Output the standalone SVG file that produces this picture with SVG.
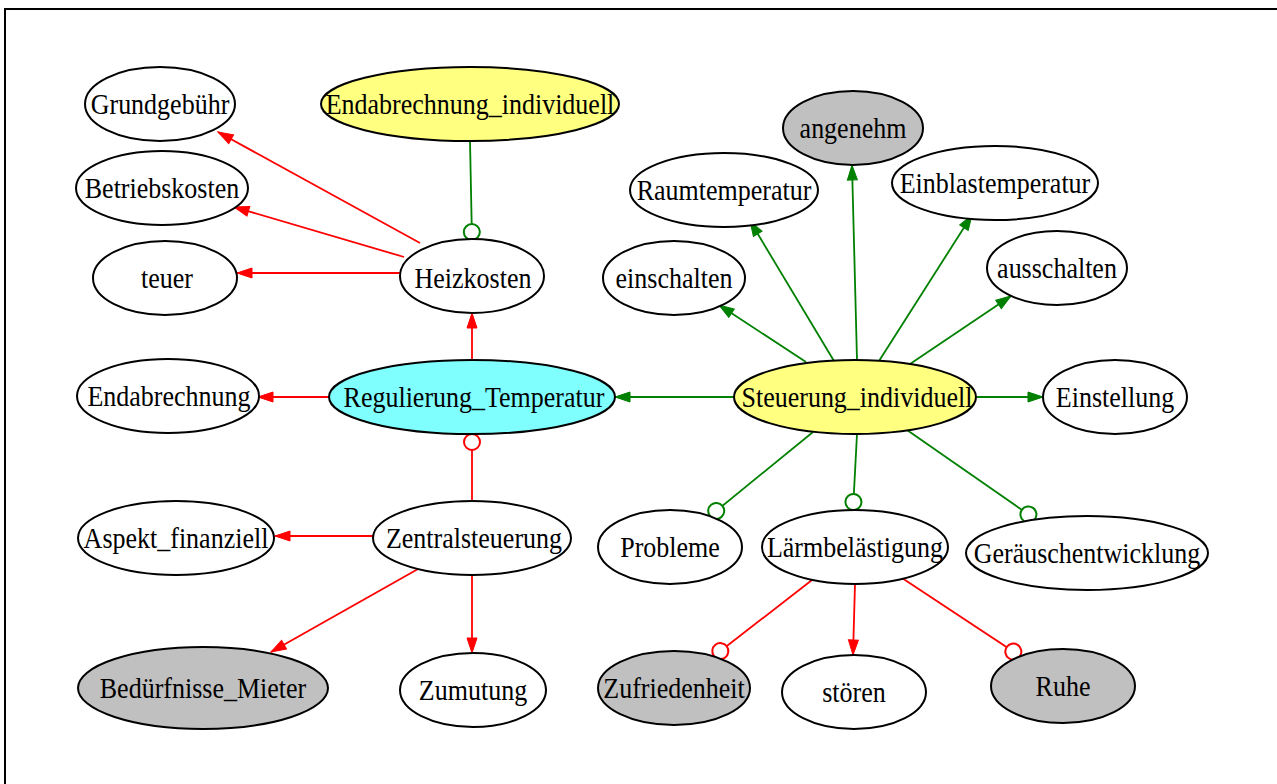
<svg xmlns="http://www.w3.org/2000/svg" width="1277" height="784" viewBox="0 0 1277 784">
<style>
  .n ellipse { stroke: #000; stroke-width: 2; fill: #fff; }
  .n.y ellipse { fill: #ffff80; }
  .n.c ellipse { fill: #80ffff; }
  .n.g ellipse { fill: #c0c0c0; }
  .n text { font-family: "Liberation Serif", "Times New Roman", serif; font-size: 26px; fill: #000; text-anchor: middle; transform-box: fill-box; transform-origin: center; transform: scaleY(1.12); }
  .r { stroke: #ff0000; stroke-width: 1.8; fill: none; }
  .gr { stroke: #008000; stroke-width: 1.8; fill: none; }
  .r.a { marker-end: url(#arR); }
  .gr.a { marker-end: url(#arG); }
  .r.o { marker-end: url(#odR); }
  .gr.o { marker-end: url(#odG); }
</style>
<defs>
  <marker id="arR" markerUnits="userSpaceOnUse" markerWidth="16" markerHeight="12" refX="15" refY="5" orient="auto" overflow="visible">
    <path d="M0,0 L15,5 L0,10 Z" fill="#ff0000" stroke="#ff0000" stroke-width="1"/>
  </marker>
  <marker id="arG" markerUnits="userSpaceOnUse" markerWidth="16" markerHeight="12" refX="15" refY="5" orient="auto" overflow="visible">
    <path d="M0,0 L15,5 L0,10 Z" fill="#008000" stroke="#008000" stroke-width="1"/>
  </marker>
  <marker id="odR" markerUnits="userSpaceOnUse" markerWidth="20" markerHeight="20" refX="17" refY="9" orient="auto" overflow="visible">
    <circle cx="9" cy="9" r="8" fill="#fff" stroke="#ff0000" stroke-width="2"/>
  </marker>
  <marker id="odG" markerUnits="userSpaceOnUse" markerWidth="20" markerHeight="20" refX="17" refY="9" orient="auto" overflow="visible">
    <circle cx="9" cy="9" r="8" fill="#fff" stroke="#008000" stroke-width="2"/>
  </marker>
</defs>
<rect x="0" y="0" width="1277" height="784" fill="#fff"/>
<rect x="5" y="9" width="1400" height="1000" fill="none" stroke="#000" stroke-width="2"/>

<g id="connectors">
  <path class="r a" d="M420,243 L218,132"/>
  <path class="r a" d="M404,257 L234,207"/>
  <path class="r a" d="M400,273 L237,273"/>
  <path class="gr o" d="M470,141 L472,240"/>
  <path class="r a" d="M472,360 L472,313"/>
  <path class="r a" d="M329,397 L258,397"/>
  <path class="gr a" d="M734,397 L615,397"/>
  <path class="gr a" d="M976,397 L1043,397"/>
  <path class="gr a" d="M806,362 L719,305"/>
  <path class="gr a" d="M834,361 L750,221"/>
  <path class="gr a" d="M857,360 L852,165"/>
  <path class="gr a" d="M879,361 L972,215"/>
  <path class="gr a" d="M910,364 L1011,296"/>
  <path class="gr o" d="M813,432 L710,516"/>
  <path class="gr o" d="M857,434 L853,510"/>
  <path class="gr o" d="M907,430 L1035,519"/>
  <path class="r o" d="M472,501 L472,434"/>
  <path class="r a" d="M373,536 L275,536"/>
  <path class="r a" d="M418,569 L271,652"/>
  <path class="r a" d="M472,575 L472,653"/>
  <path class="r o" d="M812,580 L714,656"/>
  <path class="r a" d="M855,584 L853,655"/>
  <path class="r o" d="M902,578 L1020,656"/>
</g>

<g id="Grundgebuehr" class="n"><ellipse cx="160" cy="104" rx="75" ry="37"/><text x="160" y="113">Grundgebühr</text></g>
<g id="Endabrechnung_individuell" class="n y"><ellipse cx="470" cy="104" rx="149" ry="37"/><text x="470" y="113">Endabrechnung_individuell</text></g>
<g id="Betriebskosten" class="n"><ellipse cx="162" cy="188" rx="86" ry="37"/><text x="162" y="197">Betriebskosten</text></g>
<g id="teuer" class="n"><ellipse cx="165" cy="278" rx="72" ry="37"/><text x="167" y="287">teuer</text></g>
<g id="Heizkosten" class="n"><ellipse cx="472" cy="276" rx="72" ry="37"/><text x="473" y="287">Heizkosten</text></g>
<g id="angenehm" class="n g"><ellipse cx="853" cy="128" rx="70" ry="37"/><text x="853" y="137">angenehm</text></g>
<g id="Raumtemperatur" class="n"><ellipse cx="724" cy="190" rx="94" ry="37"/><text x="724" y="199">Raumtemperatur</text></g>
<g id="Einblastemperatur" class="n"><ellipse cx="995" cy="183" rx="103" ry="37"/><text x="995" y="192">Einblastemperatur</text></g>
<g id="einschalten" class="n"><ellipse cx="674" cy="278" rx="71" ry="37"/><text x="674" y="287">einschalten</text></g>
<g id="ausschalten" class="n"><ellipse cx="1057" cy="268" rx="70" ry="37"/><text x="1057" y="277">ausschalten</text></g>
<g id="Endabrechnung" class="n"><ellipse cx="168" cy="396" rx="91" ry="37"/><text x="169" y="405">Endabrechnung</text></g>
<g id="Regulierung_Temperatur" class="n c"><ellipse cx="472" cy="397" rx="143" ry="37"/><text x="474" y="406">Regulierung_Temperatur</text></g>
<g id="Steuerung_individuell" class="n y"><ellipse cx="855" cy="397" rx="121" ry="37"/><text x="857" y="406">Steuerung_individuell</text></g>
<g id="Einstellung" class="n"><ellipse cx="1115" cy="397" rx="72" ry="37"/><text x="1115" y="406">Einstellung</text></g>
<g id="Aspekt_finanziell" class="n"><ellipse cx="176" cy="538" rx="98" ry="37"/><text x="176" y="547">Aspekt_finanziell</text></g>
<g id="Zentralsteuerung" class="n"><ellipse cx="472" cy="538" rx="99" ry="37"/><text x="474" y="547">Zentralsteuerung</text></g>
<g id="Probleme" class="n"><ellipse cx="670" cy="547" rx="72" ry="37"/><text x="670" y="556">Probleme</text></g>
<g id="Laermbelaestigung" class="n"><ellipse cx="855" cy="547" rx="93" ry="37"/><text x="855" y="556">Lärmbelästigung</text></g>
<g id="Geraeuschentwicklung" class="n"><ellipse cx="1087" cy="553" rx="121" ry="37"/><text x="1087" y="562">Geräuschentwicklung</text></g>
<g id="Beduerfnisse_Mieter" class="n g"><ellipse cx="203" cy="688" rx="125" ry="41"/><text x="203" y="697">Bedürfnisse_Mieter</text></g>
<g id="Zumutung" class="n"><ellipse cx="473" cy="690" rx="73" ry="37"/><text x="473" y="699">Zumutung</text></g>
<g id="Zufriedenheit" class="n g"><ellipse cx="674" cy="688" rx="76" ry="37"/><text x="674" y="697">Zufriedenheit</text></g>
<g id="stoeren" class="n"><ellipse cx="854" cy="692" rx="72" ry="37"/><text x="854" y="701">stören</text></g>
<g id="Ruhe" class="n g"><ellipse cx="1063" cy="686" rx="72" ry="37"/><text x="1063" y="695">Ruhe</text></g>
</svg>
